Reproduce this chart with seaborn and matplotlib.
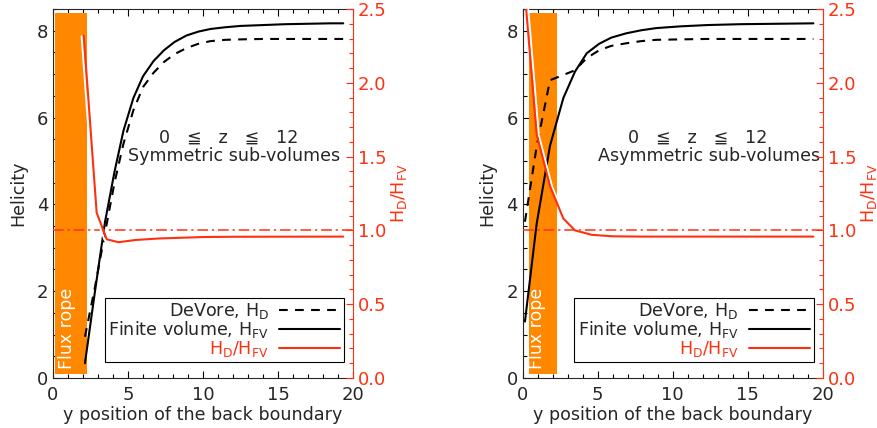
import numpy as np
import seaborn as sns
import matplotlib.pyplot as plt
from matplotlib.ticker import AutoMinorLocator, FormatStrFormatter
from matplotlib import patheffects as pe

# Left panel: symmetric sub-volumes (x = y position of back boundary)
x_sym = [2.13, 2.8, 3.47, 4.1, 4.7, 5.36, 6.0, 6.7, 7.4, 8.1, 8.9, 9.7, 10.5, 11.5, 12.5, 14.0, 15.5, 17.0, 18.5, 19.35]
hfv_sym = [0.34, 2.0, 3.6, 4.75, 5.7, 6.45, 6.95, 7.3, 7.55, 7.74, 7.89, 7.98, 8.04, 8.08, 8.11, 8.13, 8.15, 8.16, 8.17, 8.17]
hd_sym = [0.95, 2.1, 3.35, 4.5, 5.4, 6.17, 6.7, 7.03, 7.28, 7.46, 7.6, 7.7, 7.76, 7.79, 7.8, 7.81, 7.81, 7.81, 7.81, 7.81]
xr_sym = [2.05, 2.91, 3.58, 4.36, 5.5, 7.0, 8.5, 10.0, 12.0, 19.35]
ratio_sym = [2.32, 1.12, 0.94, 0.92, 0.935, 0.945, 0.95, 0.955, 0.957, 0.958]

# Right panel: asymmetric sub-volumes
x_asym = [0.15, 0.93, 1.82, 2.71, 3.49, 4.27, 5.1, 5.9, 6.9, 7.9, 8.9, 10.5, 12.3, 14.5, 17.0, 19.38]
hfv_asym = [1.3, 3.55, 5.35, 6.45, 7.06, 7.48, 7.7, 7.84, 7.94, 8.01, 8.06, 8.1, 8.13, 8.15, 8.16, 8.17]
hd_asym = [3.6, 5.33, 6.86, 6.98, 7.09, 7.37, 7.55, 7.65, 7.71, 7.76, 7.79, 7.8, 7.81, 7.81, 7.81, 7.81]
xr_asym = [0.15, 0.93, 1.82, 2.71, 3.49, 4.6, 6.0, 8.0, 12.0, 19.38]
ratio_asym = [2.6, 1.65, 1.3, 1.08, 1.0, 0.97, 0.96, 0.958, 0.958, 0.958]

# flux rope shaded band (x range, y range in helicity units)
rope_x_sym = [0.13, 2.24]
rope_x_asym = [0.42, 2.29]
rope_y = [0.1, 8.4]

panel_titles = ["Symmetric sub-volumes", "Asymmetric sub-volumes"]
range_text = "0   \u2266   z   \u2266   12"

RED = "#ff3010"
ORANGE = "#ff8800"
FS = 12.6

sns.set_style("ticks")
plt.rcParams['font.family'] = ['DejaVu Sans', 'Noto Sans CJK JP']
plt.rcParams['mathtext.default'] = 'regular'
plt.rcParams['font.size'] = FS


def draw_panel(ax, x, hd, hfv, xr, ratio, rope_x, title, shadow_dx):
    ax.fill_between(rope_x, rope_y[0], rope_y[1], color=ORANGE, lw=0, zorder=1)
    ax.text(0.92, 0.2, "Flux rope", color="white", rotation=90, ha="center", va="bottom",
            fontsize=12.5, zorder=2)
    sns.lineplot(x=x, y=hd, ax=ax, color="black", lw=1.5, linestyle=(0, (4.2, 3.5)),
                 legend=False, sort=False, zorder=3)
    sns.lineplot(x=x, y=hfv, ax=ax, color="black", lw=1.5, legend=False, sort=False, zorder=3)
    ax.set_xlim(0, 20)
    ax.set_ylim(0, 8.5)
    ax.set_xticks([0, 5, 10, 15, 20])
    ax.set_yticks([0, 2, 4, 6, 8])
    ax.xaxis.set_minor_locator(AutoMinorLocator(5))
    ax.yaxis.set_minor_locator(AutoMinorLocator(4))
    ax.tick_params(which="both", direction="in", top=True, right=False, labelsize=13,
                   width=0.8, color="black")
    ax.tick_params(which="major", length=5)
    ax.tick_params(which="minor", length=3)
    ax.tick_params(axis="x", pad=6)
    ax.set_xlabel("y position of the back boundary", fontsize=FS, labelpad=1)
    ax.set_ylabel("Helicity", fontsize=FS, labelpad=7)
    for s in ["left", "top", "bottom"]:
        ax.spines[s].set_linewidth(0.8)
    ax.spines["right"].set_visible(False)
    ax.text(7.05, 5.53, range_text, ha="left", va="center", fontsize=FS)
    ax.text(5.0, 5.11, title, ha="left", va="center", fontsize=FS)

    tw = ax.twinx()
    tw.axhline(1.0, color=RED, lw=1.1, linestyle=(0, (7, 2.5, 1.5, 2.5)))
    sns.lineplot(x=xr, y=ratio, ax=tw, color=RED, lw=1.5, legend=False, sort=False)
    line = tw.get_lines()[-1]
    line.set_path_effects([pe.SimpleLineShadow(offset=(shadow_dx, -0.5), shadow_color="white", alpha=1),
                           pe.Normal()])
    tw.set_ylim(0, 2.5)
    tw.set_yticks([0, 0.5, 1.0, 1.5, 2.0, 2.5])
    tw.yaxis.set_major_formatter(FormatStrFormatter("%.1f"))
    tw.yaxis.set_minor_locator(AutoMinorLocator(5))
    tw.tick_params(axis="y", which="both", direction="in", colors=RED, labelsize=13, width=0.8)
    tw.tick_params(axis="y", which="major", length=5)
    tw.tick_params(axis="y", which="minor", length=3)
    tw.set_ylabel(r"H$_{D}$/H$_{FV}$", color=RED, fontsize=FS, labelpad=2)
    for s in ["left", "top", "bottom"]:
        tw.spines[s].set_visible(False)
    tw.spines["right"].set_color(RED)
    tw.spines["right"].set_linewidth(0.8)

    h_d, h_fv = ax.get_lines()[0], ax.get_lines()[1]
    leg = tw.legend([h_d, h_fv, line],
                    [r"DeVore, H$_{D}$", r"Finite volume, H$_{FV}$", r"H$_{D}$/H$_{FV}$"],
                    loc="lower right", bbox_to_anchor=(0.97, 0.043), borderaxespad=0,
                    markerfirst=False, fancybox=False, framealpha=1, edgecolor="black",
                    fontsize=FS, handlelength=3.5, handletextpad=0.6, labelspacing=-0.1,
                    borderpad=0.2)
    leg.get_frame().set_linewidth(0.8)
    leg.get_texts()[2].set_color(RED)


fig = plt.figure(figsize=(8.78, 4.28), dpi=100)
ax1 = fig.add_axes([53 / 878, 50 / 428, 300 / 878, 369 / 428])
ax2 = fig.add_axes([522.7 / 878, 50 / 428, 300 / 878, 369 / 428])

draw_panel(ax1, x_sym, hd_sym, hfv_sym, xr_sym, ratio_sym, rope_x_sym, panel_titles[0], -1.5)
draw_panel(ax2, x_asym, hd_asym, hfv_asym, xr_asym, ratio_asym, rope_x_asym, panel_titles[1], 1.5)

fig.savefig("out.png", dpi=100)
